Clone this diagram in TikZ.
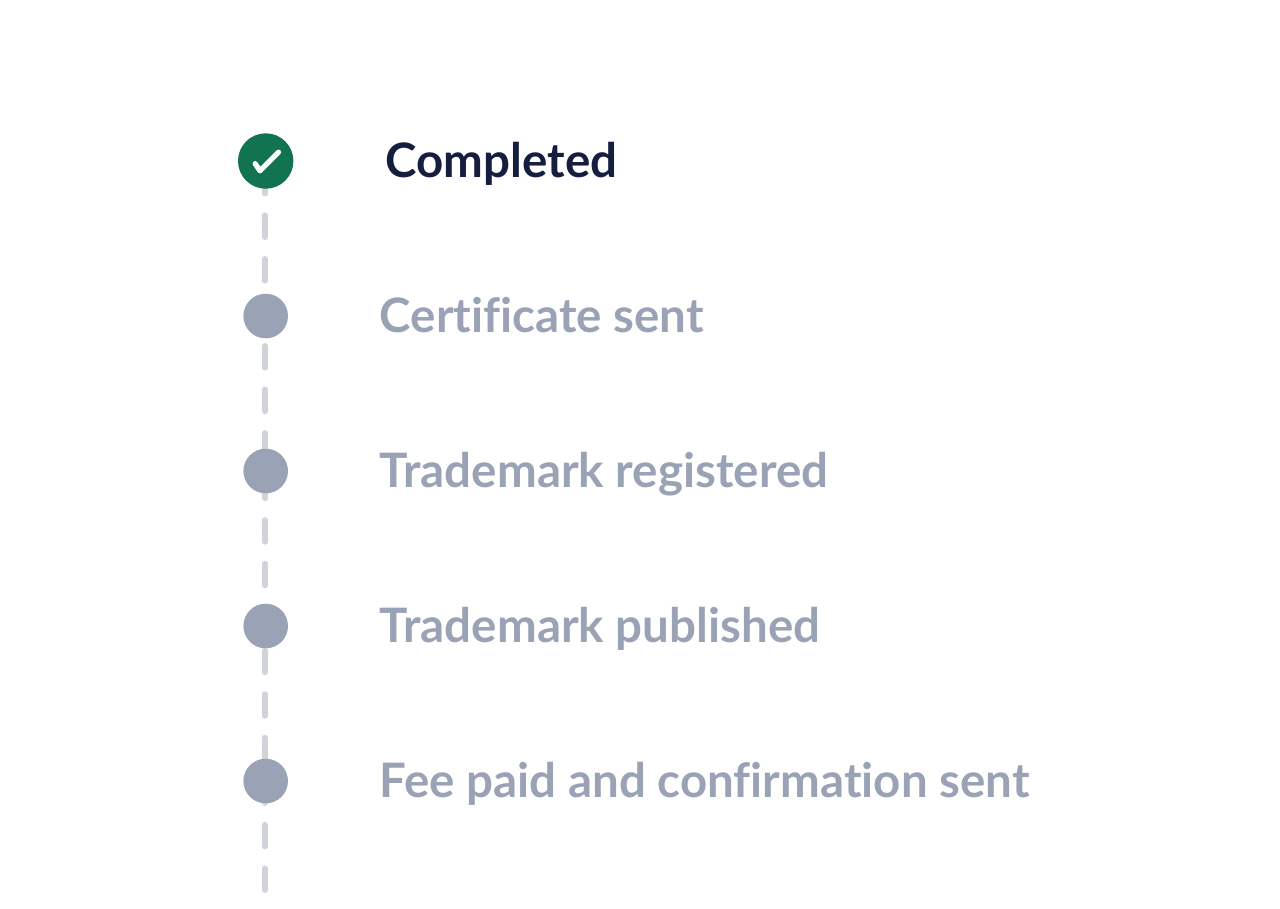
\documentclass[tikz,border=0pt]{standalone}
\usepackage{fontspec}
\setmainfont[Ligatures=NoCommon]{Lato}
\definecolor{stepgreen}{HTML}{11734F}
\definecolor{stepgrey}{HTML}{9AA3B5}
\definecolor{trackgrey}{HTML}{D1D3DB}
\definecolor{titleblue}{HTML}{161E40}
\begin{document}
\begin{tikzpicture}[
        x=0.01cm,
        y=-0.01cm,
        track/.style={trackgrey,line width=0.054cm,line cap=round,dash pattern=on 0.22cm off 0.215cm},
        dot/.style={circle,fill=stepgrey,minimum size=0.446cm,inner sep=0pt},
        donedot/.style={circle,fill=stepgreen,minimum size=0.554cm,inner sep=0pt},
        steplabel/.style={anchor=base west,inner sep=0pt,text=stepgrey,font=\fontsize{13.5pt}{15pt}\selectfont\bfseries},
        donelabel/.style={steplabel,text=titleblue}
    ]
    \useasboundingbox (0,0) rectangle (1280,908);
    % Dashed track, ends are free
    \coordinate (tracktop) at (264.8,171.7);
    \coordinate (trackend) at (264.8,892);
    \draw[track] (tracktop) -- (trackend);
    % Steps
    \node[donedot] (completed) at (265.7,161) {};
    \node[dot] (certificate) at (265.7,316) {};
    \node[dot] (registered) at (265.7,471) {};
    \node[dot] (published) at (265.7,626) {};
    \node[dot] (fee) at (265.7,781) {};
    % Tick
    \draw[white,line width=0.052cm,line cap=round,line join=round]
        ([shift={(-10.6,2.6)}]completed.center) -- ([shift={(-5.7,9.8)}]completed.center) -- ([shift={(12.8,-8.8)}]completed.center);
    % Labels
    \node[donelabel] (completedtext) at (385,177.5) {Completed};
    \node[steplabel] (certificatetext) at (379,332.5) {Certificate sent};
    \node[steplabel] (registeredtext) at (379,487.5) {Trademark registered};
    \node[steplabel] (publishedtext) at (379,642.5) {Trademark published};
    \node[steplabel] (feetext) at (379,797.5) {Fee paid and confirmation sent};
\end{tikzpicture}
\end{document}
